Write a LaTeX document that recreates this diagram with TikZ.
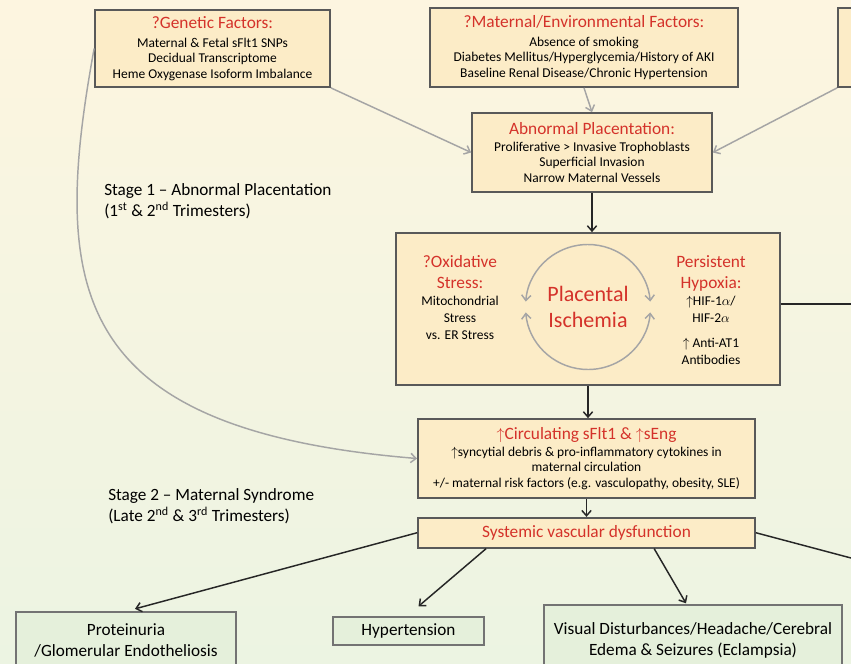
\documentclass[tikz,border=0pt]{standalone}
\usepackage{fontspec}
\setmainfont{Carlito}
\usepackage{xcolor}
\usepackage{tikz}
\usetikzlibrary{arrows.meta,positioning,calc}
\definecolor{boxCream}{RGB}{252,236,199}
\definecolor{boxGreen}{RGB}{229,240,219}
\definecolor{headRed}{RGB}{212,50,42}
\definecolor{lineGray}{RGB}{165,165,165}
\definecolor{bgCream}{RGB}{253,245,224}
\definecolor{bgGreen}{RGB}{236,244,226}
\newlength{\pxu}
\setlength{\pxu}{0.75pt}
\newcommand{\hd}[1]{{\fontsize{13}{15}\selectfont\color{headRed}#1}}

\begin{document}
\begin{tikzpicture}[x=0.75pt,y=-0.75pt,
  b/.style={draw=black!65,line width=1.3pt,fill=boxCream,align=center,inner sep=0pt,font=\fontsize{10.1}{11.6}\selectfont},
  g/.style={draw=black!55,line width=1.1pt,fill=boxGreen,align=center,inner sep=0pt,font=\fontsize{12.9}{15.7}\selectfont},
  txt/.style={align=center,inner sep=0pt,font=\fontsize{10.1}{12.75}\selectfont},
  stage/.style={align=left,inner sep=0pt,anchor=north west,font=\fontsize{12.9}{15.7}\selectfont},
  arrow/.style={-{Straight Barb[length=4pt,width=7pt]},line width=1.1pt,black!85},
  garrow/.style={-{Straight Barb[length=4pt,width=7pt]},line width=1.1pt,lineGray}
]
  \useasboundingbox (0,0) rectangle (851,664);
  \clip (0,0) rectangle (851,664);
  \shade[top color=bgCream,middle color=white,bottom color=bgGreen] (0,0) rectangle (851,664);

  % stage 1 boxes
  \node[b,minimum width=235\pxu,minimum height=77\pxu] (gen) at (212.5,48.5)
    {\hd{?Genetic Factors:}\\[2.25pt]Maternal \& Fetal sFlt1 SNPs\\Decidual Transcriptome\\Heme Oxygenase Isoform Imbalance};
  \node[b,minimum width=308\pxu,minimum height=79\pxu] (mat) at (584,47.5)
    {\hd{?Maternal/Environmental Factors:}\\[2.25pt]Absence of smoking\\Diabetes Mellitus/Hyperglycemia/History of AKI\\Baseline Renal Disease/Chronic Hypertension};
  \node[b,minimum width=200\pxu,minimum height=79\pxu] (rgt) at (938,47.5) {};
  \node[b,minimum width=240\pxu,minimum height=79\pxu] (abn) at (592,152.5)
    {\hd{Abnormal Placentation:}\\[0.75pt]Proliferative > Invasive Trophoblasts\\Superficial Invasion\\Narrow Maternal Vessels};
  \node[b,minimum width=384\pxu,minimum height=152\pxu] (isc) at (588,309) {};
  \node[txt,anchor=north] (oxs) at (460,255)
    {\hd{?Oxidative}\\[3pt]\hd{Stress:}\\[0pt]Mitochondrial\\Stress\\vs. ER Stress};
  \node[txt,anchor=north] (hpx) at (711,255)
    {\hd{Persistent}\\[3pt]\hd{Hypoxia:}\\[0pt]$\uparrow$HIF-1$\alpha$/\\HIF-2$\alpha$\\[6pt]$\uparrow$ Anti-AT1\\Antibodies};
  \coordinate (cyc) at (588,307);
  \node[align=center,inner sep=0pt,font=\fontsize{16.5}{19.5}\selectfont\color{headRed}] (pis) at (cyc)
    {Placental\\Ischemia};
  \draw[garrow,{Straight Barb[length=4pt,width=7pt]}-{Straight Barb[length=4pt,width=7pt]}]
    ([shift={(185:62.5)}]cyc) arc[start angle=185,end angle=355,radius=62.5];
  \draw[garrow,{Straight Barb[length=4pt,width=7pt]}-{Straight Barb[length=4pt,width=7pt]}]
    ([shift={(5:62.5)}]cyc) arc[start angle=5,end angle=175,radius=62.5];

  % stage 2 boxes
  \node[b,minimum width=337\pxu,minimum height=79\pxu] (circ) at (586.5,458.5)
    {\hd{$\uparrow$Circulating sFlt1 \& $\uparrow$sEng}\\[0.75pt]$\uparrow$syncytial debris \& pro-inflammatory cytokines in\\maternal circulation\\+/- maternal risk factors (e.g. vasculopathy, obesity, SLE)};
  \node[b,minimum width=337\pxu,minimum height=30\pxu,below=18\pxu of circ] (sys) {\hd{Systemic vascular dysfunction}};
  \node[g,minimum width=220\pxu,minimum height=56\pxu] (prot) at (126,640) {Proteinuria\\/Glomerular Endotheliosis};
  \node[g,minimum width=151\pxu,minimum height=28\pxu] (hyp) at (408.5,631) {Hypertension};
  \node[g,minimum width=298\pxu,minimum height=70\pxu] (vis) at (693,640)
    {Visual Disturbances/Headache/Cerebral\\Edema \& Seizures (Eclampsia)};

  \node[stage] (st1) at (104,183) {Stage 1 -- Abnormal Placentation\\(1\textsuperscript{st} \& 2\textsuperscript{nd} Trimesters)};
  \node[stage] (st2) at (108,488) {Stage 2 -- Maternal Syndrome\\(Late 2\textsuperscript{nd} \& 3\textsuperscript{rd} Trimesters)};

  \coordinate (iscout) at (851,304);
  \coordinate (sysout) at (851,558);

  \draw[garrow] (gen.south east) -- (abn.west);
  \draw[garrow] (mat.south) -- (abn.north);
  \draw[garrow] (rgt.south west) -- (abn.east);
  \draw[garrow] (gen.west) .. controls (50,290) and (70,430) .. (circ.west);
  \draw[arrow] (abn.south) -- (abn.south |- isc.north);
  \draw[arrow] (isc.south) -- (isc.south |- circ.north);
  \draw[arrow] (circ.south) -- (sys.north);
  \draw[line width=1.1pt,black!85] (isc.east |- iscout) -- (iscout);
  \draw[line width=1.1pt,black!85] (sys.east) -- (sysout);
  \draw[arrow,shorten >=7pt] (sys.west) -- (prot.north);
  \draw[arrow] ($(sys.south west)+(69,0)$) -- ($(hyp.north)+(10,-10)$);
  \draw[arrow] ($(sys.south west)+(237,0)$) -- ($(vis.north)+(-7,-1)$);
\end{tikzpicture}
\end{document}
